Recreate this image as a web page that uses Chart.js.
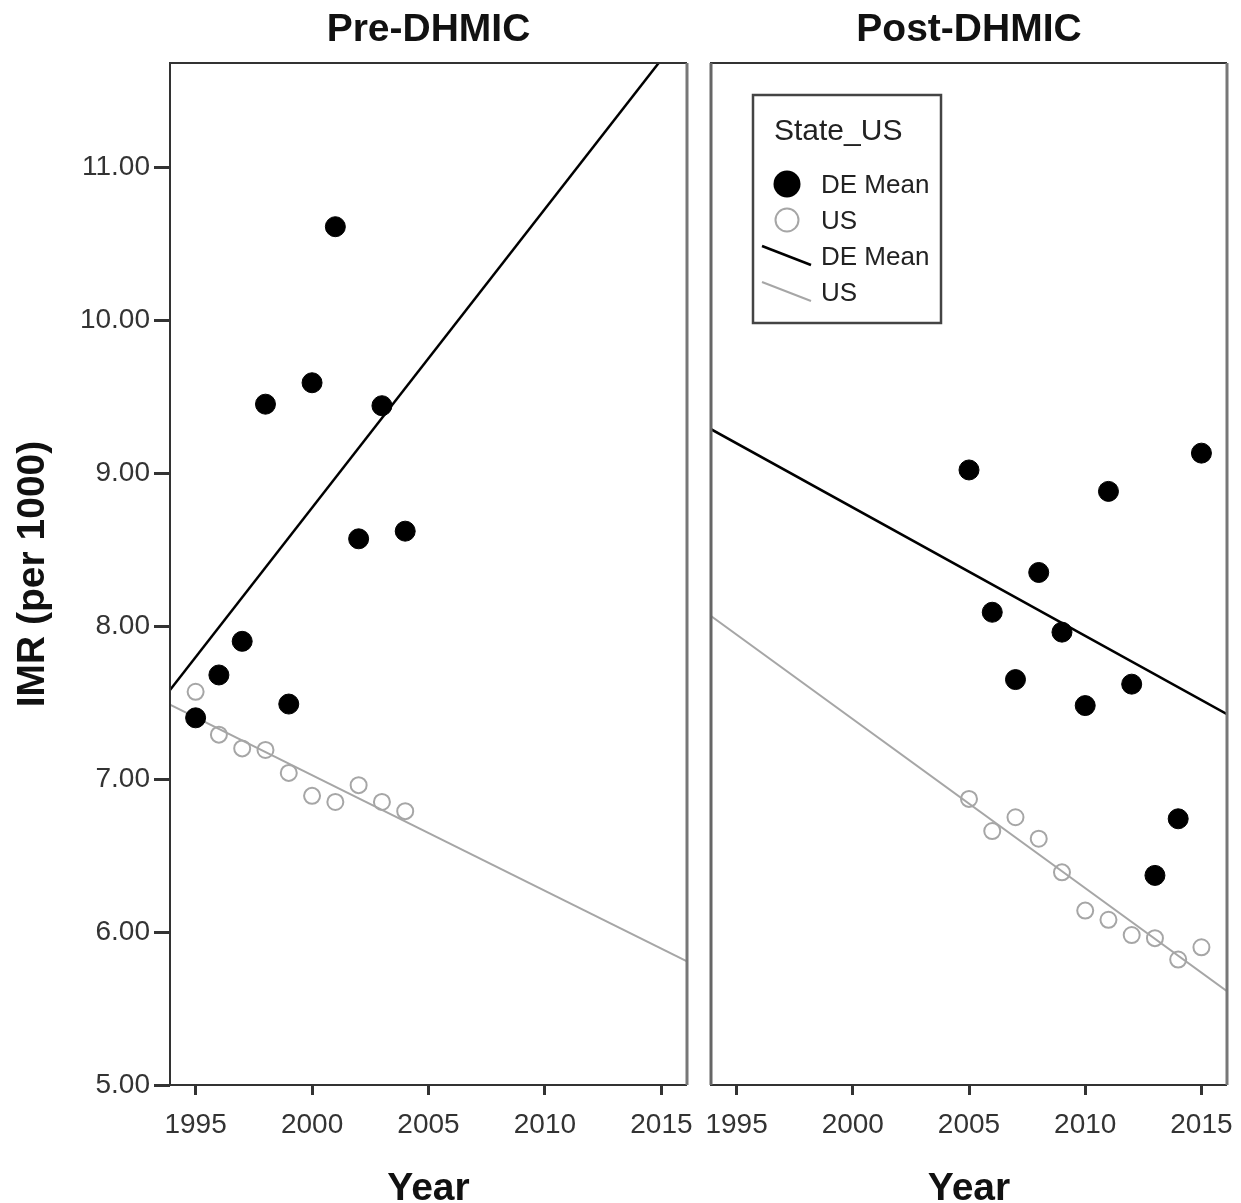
<!DOCTYPE html>
<html lang="en">
<head>
<meta charset="UTF-8">
<title>IMR Pre/Post DHMIC</title>
<script src="https://cdn.jsdelivr.net/npm/chart.js"></script>
<style>
    body {
        margin: 0;
        background: #fff;
    }
    #wrap {
        position: relative;
        width: 1241px;
        height: 1203px;
    }
    canvas {
        position: absolute;
        top: 0;
    }
    #preChart { left: 0; }
    #postChart { left: 700px; }
</style>
</head>
<body>
<div id="wrap">
    <canvas id="preChart" width="700" height="1203"></canvas>
    <canvas id="postChart" width="541" height="1203"></canvas>
</div>
<script>
// IMR per 1000, Delaware mean vs US
const preYears = [1995, 1996, 1997, 1998, 1999, 2000, 2001, 2002, 2003, 2004];
const preDE = [7.40, 7.68, 7.90, 9.45, 7.49, 9.59, 10.61, 8.57, 9.44, 8.62];
const preUS = [7.57, 7.29, 7.20, 7.19, 7.04, 6.89, 6.85, 6.96, 6.85, 6.79];

const postYears = [2005, 2006, 2007, 2008, 2009, 2010, 2011, 2012, 2013, 2014, 2015];
const postDE = [9.02, 8.09, 7.65, 8.35, 7.96, 7.48, 8.88, 7.62, 6.37, 6.74, 9.13];
const postUS = [6.87, 6.66, 6.75, 6.61, 6.39, 6.14, 6.08, 5.98, 5.96, 5.82, 5.90];

const xTicks = [1995, 2000, 2005, 2010, 2015];
const yTicks = [5, 6, 7, 8, 9, 10, 11];
const xMin = 1993.9, xMax = 2016.1;
const yMin = 5, yMax = 11.68;

const FONT = "'Liberation Sans', Arial, sans-serif";
const DE_COLOR = '#000';
const US_COLOR = '#a6a6a6';

// least squares line across the full x range
function fitLine(xs, ys) {
    const n = xs.length;
    const mx = xs.reduce((a, b) => a + b, 0) / n;
    const my = ys.reduce((a, b) => a + b, 0) / n;
    let sxy = 0, sxx = 0;
    xs.forEach((x, i) => {
        sxy += (x - mx) * (ys[i] - my);
        sxx += (x - mx) * (x - mx);
    });
    const b = sxy / sxx;
    return [xMin, xMax].map(x => ({ x: x, y: my + b * (x - mx) }));
}

function toPoints(xs, ys) {
    return xs.map((x, i) => ({ x: x, y: ys[i] }));
}

// box around the plot area, right edges a bit lighter
const frame = {
    id: 'frame',
    afterDraw(chart) {
        const { ctx, chartArea: a } = chart;
        ctx.save();
        ctx.lineWidth = 2;
        ctx.strokeStyle = '#333';
        ctx.beginPath();
        ctx.moveTo(a.right, a.top);
        ctx.lineTo(a.left, a.top);
        ctx.lineTo(a.left, a.bottom);
        ctx.lineTo(a.right, a.bottom);
        ctx.stroke();
        ctx.lineWidth = 3;
        ctx.strokeStyle = '#777';
        ctx.beginPath();
        ctx.moveTo(a.right, a.top);
        ctx.lineTo(a.right, a.bottom);
        ctx.stroke();
        if (chart.canvas.id === 'postChart') {
            ctx.strokeStyle = '#666';
            ctx.beginPath();
            ctx.moveTo(a.left, a.top);
            ctx.lineTo(a.left, a.bottom);
            ctx.stroke();
        }
        ctx.restore();
    }
};

// legend box drawn inside the post panel
const legendBox = {
    id: 'legendBox',
    afterDraw(chart) {
        if (chart.canvas.id !== 'postChart') return;
        const { ctx, chartArea } = chart;
        const x0 = chartArea.left + 42, y0 = chartArea.top + 32;
        ctx.save();
        ctx.fillStyle = '#fff';
        ctx.fillRect(x0, y0, 188, 228);
        ctx.strokeStyle = '#444';
        ctx.lineWidth = 2.5;
        ctx.strokeRect(x0, y0, 188, 228);

        ctx.fillStyle = '#222';
        ctx.textBaseline = 'middle';
        ctx.font = '30px ' + FONT;
        ctx.fillText('State_US', x0 + 21, y0 + 37);

        ctx.font = '26px ' + FONT;
        let row = 0;
        chart.data.datasets.forEach(ds => {
            const cy = y0 + 90 + row * 36;
            if (ds.showLine) {
                ctx.strokeStyle = ds.borderColor;
                ctx.lineWidth = ds.borderWidth;
                ctx.beginPath();
                ctx.moveTo(x0 + 9, cy - 11);
                ctx.lineTo(x0 + 58, cy + 8);
                ctx.stroke();
            } else {
                ctx.beginPath();
                ctx.arc(x0 + 34, cy - 1, ds.filled ? 13.5 : 11.5, 0, Math.PI * 2);
                if (ds.filled) {
                    ctx.fillStyle = ds.backgroundColor;
                    ctx.fill();
                } else {
                    ctx.strokeStyle = ds.borderColor;
                    ctx.lineWidth = 2;
                    ctx.stroke();
                }
            }
            ctx.fillStyle = '#222';
            ctx.fillText(ds.label, x0 + 68, cy + 1);
            row++;
        });
        ctx.restore();
    }
};

function makePanel(id, title, years, de, us, isLeft) {
    const ctx = document.getElementById(id).getContext('2d');
    return new Chart(ctx, {
        type: 'scatter',
        data: {
            datasets: [
                {
                    label: 'DE Mean',
                    filled: true,
                    data: toPoints(years, de),
                    backgroundColor: DE_COLOR,
                    borderColor: DE_COLOR,
                    pointRadius: 10,
                    borderWidth: 1
                },
                {
                    label: 'US',
                    data: toPoints(years, us),
                    backgroundColor: 'rgba(0,0,0,0)',
                    borderColor: US_COLOR,
                    pointRadius: 8,
                    borderWidth: 2
                },
                {
                    label: 'DE Mean',
                    data: fitLine(years, de),
                    showLine: true,
                    borderColor: DE_COLOR,
                    borderWidth: 2.5,
                    pointRadius: 0,
                    clip: 0
                },
                {
                    label: 'US',
                    data: fitLine(years, us),
                    showLine: true,
                    borderColor: US_COLOR,
                    borderWidth: 2,
                    pointRadius: 0,
                    clip: 0
                }
            ]
        },
        options: {
            responsive: false,
            animation: false,
            events: [],
            layout: {
                padding: isLeft ? { left: 0, right: 13, top: 0, bottom: 0 } : { left: 5, right: 14, top: 0, bottom: 0 }
            },
            plugins: {
                legend: { display: false },
                tooltip: { enabled: false }
            },
            scales: {
                x: {
                    type: 'linear',
                    position: 'bottom',
                    min: xMin,
                    max: xMax,
                    afterBuildTicks: s => { s.ticks = xTicks.map(v => ({ value: v })); },
                    afterFit: s => {
                        // labels may run past the plot edges, no extra inset
                        s.height = 118;
                        s.paddingLeft = 0;
                        s.paddingRight = 0;
                    },
                    ticks: {
                        autoSkip: false,
                        maxRotation: 0,
                        padding: 13,
                        color: '#333',
                        font: { family: FONT, size: 28 },
                        callback: v => String(v)
                    },
                    grid: { drawOnChartArea: false, tickLength: 10, tickWidth: 3, tickColor: '#333' },
                    border: { display: false },
                    title: {
                        display: true,
                        text: 'Year',
                        color: '#111',
                        font: { family: FONT, size: 39, weight: 'bold', lineHeight: 0.7 },
                        padding: { top: 0, bottom: 0 }
                    }
                },
                top: {
                    type: 'linear',
                    position: 'top',
                    min: xMin,
                    max: xMax,
                    afterFit: s => {
                        s.height = 63;
                        s.paddingLeft = 0;
                        s.paddingRight = 0;
                    },
                    ticks: { display: false },
                    grid: { display: false },
                    border: { display: false },
                    title: {
                        display: true,
                        text: title,
                        color: '#111',
                        font: { family: FONT, size: 39, weight: 'bold', lineHeight: 1 },
                        padding: { top: 11, bottom: 0 }
                    }
                },
                y: {
                    type: 'linear',
                    display: isLeft,
                    min: yMin,
                    max: yMax,
                    afterBuildTicks: s => { s.ticks = yTicks.map(v => ({ value: v })); },
                    afterFit: s => { if (isLeft) s.width = 170; },
                    ticks: {
                        padding: 4,
                        color: '#333',
                        font: { family: FONT, size: 28 },
                        callback: v => v.toFixed(2)
                    },
                    grid: { drawOnChartArea: false, tickLength: 16, tickWidth: 3, tickColor: '#333' },
                    border: { display: false },
                    title: {
                        display: true,
                        text: 'IMR (per 1000)',
                        color: '#111',
                        font: { family: FONT, size: 39, weight: 'bold', lineHeight: 1 },
                        padding: { top: 14, bottom: 0 }
                    }
                }
            }
        },
        plugins: [frame, legendBox]
    });
}

makePanel('preChart', 'Pre-DHMIC', preYears, preDE, preUS, true);
makePanel('postChart', 'Post-DHMIC', postYears, postDE, postUS, false);
</script>
</body>
</html>
